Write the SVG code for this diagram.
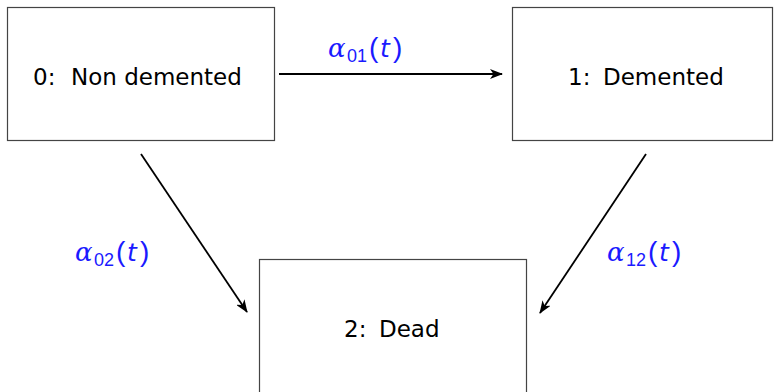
<svg xmlns="http://www.w3.org/2000/svg" width="774" height="392" viewBox="0 0 774 392">
<style>
.box{fill:#fff;stroke:#444;stroke-width:1.2}
.lbl{font-family:"DejaVu Sans","Liberation Sans",Arial,sans-serif;font-size:23px;fill:#000}
.edge{stroke:#000;stroke-width:1.8;fill:none}
.rate{fill:#1a1aff;font-family:"Liberation Sans",Arial,sans-serif;font-size:28px}
.al{font-family:"DejaVu Serif","Liberation Serif",serif;font-style:italic;font-size:26px}
.sub{font-size:18px}
.it{font-family:"DejaVu Sans",sans-serif;font-style:italic;font-size:25px}
</style>
<defs>
<marker id="arr" viewBox="0 0 13 10" refX="12" refY="5" markerWidth="13" markerHeight="10" markerUnits="userSpaceOnUse" orient="auto">
<path d="M0,0 L13,5 L0,10 L3.5,5 Z" fill="#000"/>
</marker>
</defs>
<g id="node0">
<rect class="box" x="7.5" y="7.5" width="267" height="133"/>
<text class="lbl" y="85"><tspan x="33">0:</tspan><tspan x="71">Non demented</tspan></text>
</g>
<g id="node1">
<rect class="box" x="512.5" y="7.5" width="260" height="133"/>
<text class="lbl" y="85"><tspan x="568">1:</tspan><tspan x="603">Demented</tspan></text>
</g>
<g id="node2">
<rect class="box" x="259.5" y="259.5" width="267" height="140"/>
<text class="lbl" y="337"><tspan x="344">2:</tspan><tspan x="379">Dead</tspan></text>
</g>
<g id="connectors">
<line class="edge" x1="279" y1="74" x2="502" y2="74" marker-end="url(#arr)"/>
<line class="edge" x1="141" y1="154" x2="247" y2="312" marker-end="url(#arr)"/>
<line class="edge" x1="646" y1="154" x2="540" y2="313" marker-end="url(#arr)"/>
</g>
<g id="labels">
<text class="rate" y="57"><tspan class="al" x="328">α</tspan><tspan class="sub" x="347" y="62">01</tspan><tspan x="369" y="57">(</tspan><tspan class="it" x="380">t</tspan><tspan x="393">)</tspan></text>
<text class="rate" y="261"><tspan class="al" x="75">α</tspan><tspan class="sub" x="94" y="266">02</tspan><tspan x="116" y="261">(</tspan><tspan class="it" x="127">t</tspan><tspan x="140">)</tspan></text>
<text class="rate" y="261"><tspan class="al" x="607">α</tspan><tspan class="sub" x="626" y="266">12</tspan><tspan x="648" y="261">(</tspan><tspan class="it" x="659">t</tspan><tspan x="672">)</tspan></text>
</g>
</svg>
